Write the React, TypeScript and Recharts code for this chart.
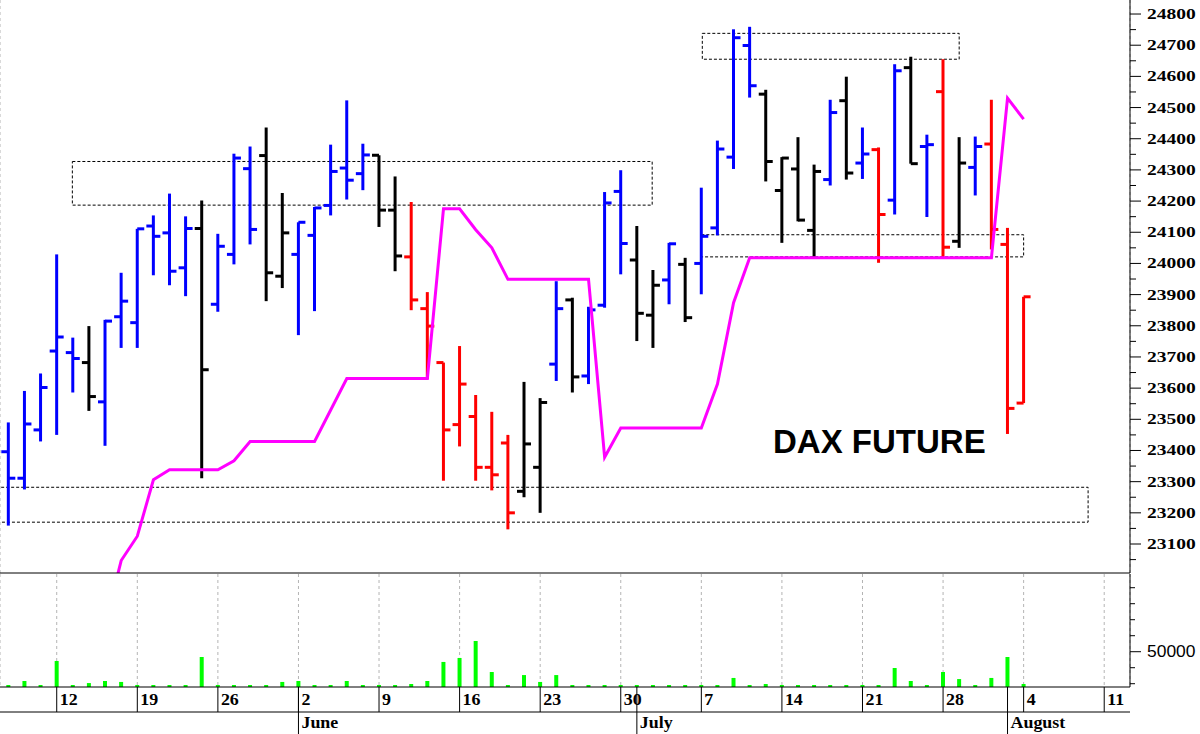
import { ComposedChart, Bar, Line, XAxis, YAxis, CartesianGrid, ReferenceArea } from 'recharts';

// trading-day index 0 = May 7
const opens = [
  23396, 23311, 23466, 23719, 23714, 23682, 23556, 23829, 23810, 24120,
  24098, 23986, 24112, 23869, 24029, 24304, 24346, 23959, 24029, 24090,
  24186, 24306, 24288, 24347, 24171, 24021, 23855, 23682, 23483, 23509,
  23346, 23424, 23269, 23346, 23677, 23883, 23639, 23866, 24231, 24011,
  23834, 23947, 23997, 24000, 24114, 24341, 24699, 24543, 24234, 24303,
  24106, 24269, 24522, 24322, 24365, 24203, 24628, 24375, 24551, 24071,
  24308, 24383, 24061, 23552,
];
const highs = [
  23490, 23591, 23647, 24029, 23762, 23799, 23819, 23970, 24111, 24154,
  24224, 24151, 24202, 24095, 24352, 24375, 24436, 24226, 24132, 24181,
  24381, 24523, 24384, 24347, 24279, 24197, 23908, 23682, 23735, 23578,
  23524, 23450, 23620, 23568, 23943, 23890, 23861, 24229, 24299, 24120,
  23979, 24066, 24018, 24243, 24394, 24751, 24759, 24557, 24341, 24405,
  24317, 24525, 24599, 24436, 24372, 24639, 24663, 24413, 24655, 24405,
  24407, 24525, 24114, 23893,
];
const lows = [
  23159, 23275, 23429, 23450, 23586, 23527, 23415, 23729, 23729, 23962,
  23930, 23895, 23311, 23845, 23997, 24061, 23879, 23921, 23770, 23847,
  24154, 24205, 24235, 24117, 23975, 23850, 23630, 23303, 23413, 23303,
  23272, 23147, 23250, 23200, 23623, 23586, 23613, 23858, 23965, 23751,
  23729, 23869, 23812, 23901, 24090, 24303, 24532, 24263, 24066, 24135,
  24021, 24250, 24269, 24271, 24002, 24157, 24320, 24149, 24018, 24050,
  24218, 24045, 23453, 23552,
];
const closes = [
  23311, 23485, 23602, 23764, 23695, 23573, 23815, 23879, 24111, 24087,
  23975, 24112, 23659, 24055, 24338, 24109, 23970, 24098, 24132, 24178,
  24295, 24267, 24348, 24171, 24024, 23883, 23799, 23466, 23613, 23346,
  23322, 23200, 23421, 23554, 23855, 23636, 23851, 24194, 24064, 23840,
  23930, 24063, 23826, 24087, 24367, 24724, 24570, 24327, 24338, 24139,
  24295, 24484, 24290, 24351, 24157, 24618, 24320, 24381, 24052, 24322,
  24375, 24109, 23535, 23893,
];
const barColors = [
  'b', 'b', 'b', 'b', 'b', 'k', 'b', 'b', 'b', 'b',
  'b', 'b', 'k', 'b', 'b', 'b', 'k', 'k', 'b', 'b',
  'b', 'b', 'b', 'k', 'k', 'r', 'r', 'r', 'r', 'r',
  'r', 'r', 'k', 'k', 'b', 'k', 'b', 'b', 'b', 'k',
  'k', 'b', 'k', 'b', 'b', 'b', 'b', 'k', 'k', 'k',
  'k', 'b', 'k', 'b', 'r', 'b', 'k', 'b', 'r', 'k',
  'b', 'r', 'r', 'r',
];
const stops = [
  null, null, null, null, null, null, 22840, 23047, 23125, 23306,
  23338, 23338, 23338, 23338, 23367, 23429, 23429, 23429, 23429, 23429,
  23530, 23631, 23631, 23631, 23631, 23631, 23631, 24175, 24175, 24108,
  24050, 23949, 23949, 23949, 23949, 23949, 23949, 23378, 23472, 23472,
  23472, 23472, 23472, 23472, 23613, 23874, 24018, 24018, 24018, 24018,
  24018, 24018, 24018, 24018, 24018, 24018, 24018, 24018, 24018, 24018,
  24018, 24018, 24530, 24463,
];
const volumes = [
  29200, 31700, 29200, 44200, 29200, 30400, 31700, 31100, 29200, 29200,
  29200, 29200, 46700, 29200, 29200, 29200, 29200, 31100, 31700, 29200,
  29200, 31700, 29200, 29200, 29200, 29800, 31700, 43600, 46100, 56700,
  37300, 29200, 35400, 31100, 35400, 29200, 29200, 29200, 29200, 29200,
  29200, 29200, 29200, 29200, 29200, 33600, 29200, 29800, 29200, 29200,
  29200, 29200, 29200, 29200, 29200, 39800, 31700, 29200, 37300, 32900,
  29200, 33600, 46700, 29800,
];

const weekTicks = [3, 8, 13, 18, 23, 28, 33, 38, 43, 48, 53, 58, 63, 68];
const weekLabels = ['12', '19', '26', '2', '9', '16', '23', '30', '7', '14', '21', '28', '4', '11'];
const monthTicks = [18, 39, 62];
const monthLabels = ['June', 'July', 'August'];

const priceTicks = [
  23050, 23100, 23150, 23200, 23250, 23300, 23350, 23400, 23450, 23500,
  23550, 23600, 23650, 23700, 23750, 23800, 23850, 23900, 23950, 24000,
  24050, 24100, 24150, 24200, 24250, 24300, 24350, 24400, 24450, 24500,
  24550, 24600, 24650, 24700, 24750, 24800,
];
const volumeTicks = [30000, 40000, 50000, 60000, 70000, 80000, 90000];

// dotted boxes: [x1, x2, y1, y2]
const boxes = [
  [3.97, 39.95, 24187, 24327],
  [43.06, 59, 24655, 24738],
  [43, 63, 24021, 24092],
  [-2, 67, 23170, 23282],
];

const COLORS = { b: '#0000ff', k: '#000000', r: '#ff0000' };
const X_DOMAIN = [-0.52, 69.6];

const rows = opens.map((open, i) => ({
  i,
  open,
  high: highs[i],
  low: lows[i],
  close: closes[i],
  color: COLORS[barColors[i]],
  stop: stops[i],
  vol: volumes[i],
}));

function OhlcShape(props: any) {
  const { x, y, width, height, payload } = props;
  const cx = x + width / 2;
  const top = Math.min(y, y + height);
  const bottom = Math.max(y, y + height);
  const span = payload.high - payload.low || 1;
  const py = (v: number) => top + ((payload.high - v) / span) * (bottom - top);
  return (
    <g stroke={payload.color} strokeWidth={3}>
      <line x1={cx} x2={cx} y1={top} y2={bottom} />
      <line x1={cx - 7} x2={cx} y1={py(payload.open)} y2={py(payload.open)} />
      <line x1={cx} x2={cx + 7} y1={py(payload.close)} y2={py(payload.close)} />
    </g>
  );
}

function PriceTick({ x, y, payload }: any) {
  const major = payload.value % 100 === 0;
  return (
    <g>
      <line x1={x} x2={x + (major ? 11 : 6)} y1={y} y2={y} stroke="#000" />
      {major && (
        <text
          transform={`translate(${x + 17},${y + 5}) scale(1.3,1)`}
          fontFamily="Liberation Serif"
          fontWeight="bold"
          fontSize={15}
          fill="#000"
        >
          {payload.value}
        </text>
      )}
    </g>
  );
}

function VolumeTick({ x, y, payload }: any) {
  const major = payload.value === 50000;
  return (
    <g>
      <line x1={x} x2={x + (major ? 11 : 5)} y1={y} y2={y} stroke="#000" />
      {major && (
        <text
          transform={`translate(${x + 17},${y + 5}) scale(1.09,1)`}
          fontFamily="Liberation Sans"
          fontSize={16}
          fill="#000"
        >
          {payload.value}
        </text>
      )}
    </g>
  );
}

function DayTick({ x, y, payload }: any) {
  const label = weekLabels[weekTicks.indexOf(payload.value)];
  return (
    <g>
      <line x1={x} x2={x} y1={y} y2={y + 25} stroke="#000" />
      <text
        transform={`translate(${x + 3},${y + 18}) scale(1.12,1)`}
        fontFamily="Liberation Serif"
        fontWeight="bold"
        fontSize={16}
        fill="#000"
      >
        {label}
      </text>
    </g>
  );
}

function MonthTick({ x, y, payload }: any) {
  const label = monthLabels[monthTicks.indexOf(payload.value)];
  return (
    <g>
      <line x1={x} x2={x} y1={y - 25} y2={y + 22} stroke="#000" />
      <text
        transform={`translate(${x + 3},${y + 16}) scale(1.12,1)`}
        fontFamily="Liberation Serif"
        fontWeight="bold"
        fontSize={16}
        fill="#000"
      >
        {label}
      </text>
    </g>
  );
}

const gridStroke = '#b4b4b4';

export default function App() {
  return (
    <div style={{ position: 'absolute', left: 0, top: 0, width: 1200, height: 734, background: '#fff' }}>
      <ComposedChart width={1200} height={574} data={rows} margin={{ top: 0, right: 0, bottom: 0, left: 0 }}>
        <CartesianGrid horizontal={false} stroke={gridStroke} strokeDasharray="3 3" />
        <XAxis
          dataKey="i"
          type="number"
          domain={X_DOMAIN}
          allowDataOverflow
          ticks={weekTicks}
          interval={0}
          tick={false}
          tickLine={false}
          height={1}
          axisLine={{ stroke: '#000' }}
        />
        <YAxis
          orientation="right"
          width={70}
          type="number"
          domain={[23007, 24845]}
          allowDataOverflow
          ticks={priceTicks}
          interval={0}
          tickSize={0}
          tickMargin={0}
          tickLine={false}
          axisLine={{ stroke: '#000' }}
          tick={<PriceTick />}
        />
        {boxes.map(([x1, x2, y1, y2], k) => (
          <ReferenceArea
            key={k}
            x1={x1}
            x2={x2}
            y1={y1}
            y2={y2}
            fill="none"
            fillOpacity={0}
            stroke="#000"
            strokeDasharray="3 2"
            ifOverflow="hidden"
          />
        ))}
        <Bar
          dataKey={(d: any) => [d.low, d.high]}
          barSize={16}
          shape={<OhlcShape />}
          isAnimationActive={false}
        />
        <Line
          dataKey="stop"
          stroke="#ff00ff"
          strokeWidth={3}
          dot={false}
          activeDot={false}
          isAnimationActive={false}
        />
        <text x={773} y={453} fontFamily="Liberation Sans" fontWeight="bold" fontSize={33} fill="#000">
          DAX FUTURE
        </text>
      </ComposedChart>
      <ComposedChart width={1200} height={160} data={rows} margin={{ top: 0, right: 0, bottom: 0, left: 0 }}>
        <CartesianGrid horizontal={false} stroke={gridStroke} strokeDasharray="3 3" />
        <XAxis
          dataKey="i"
          type="number"
          domain={X_DOMAIN}
          allowDataOverflow
          ticks={weekTicks}
          interval={0}
          height={25}
          tickSize={0}
          tickMargin={0}
          tickLine={false}
          axisLine={{ stroke: '#000' }}
          tick={<DayTick />}
        />
        <XAxis
          xAxisId="m"
          dataKey="i"
          type="number"
          domain={X_DOMAIN}
          allowDataOverflow
          ticks={monthTicks}
          interval={0}
          height={22}
          tickSize={0}
          tickMargin={0}
          tickLine={false}
          axisLine={{ stroke: '#000' }}
          tick={<MonthTick />}
        />
        <YAxis
          orientation="right"
          width={70}
          type="number"
          domain={[27940, 98565]}
          allowDataOverflow
          ticks={volumeTicks}
          interval={0}
          tickSize={0}
          tickMargin={0}
          tickLine={false}
          axisLine={{ stroke: '#000' }}
          tick={<VolumeTick />}
        />
        <Bar dataKey="vol" fill="#00ff00" barSize={4} isAnimationActive={false} />
      </ComposedChart>
    </div>
  );
}
